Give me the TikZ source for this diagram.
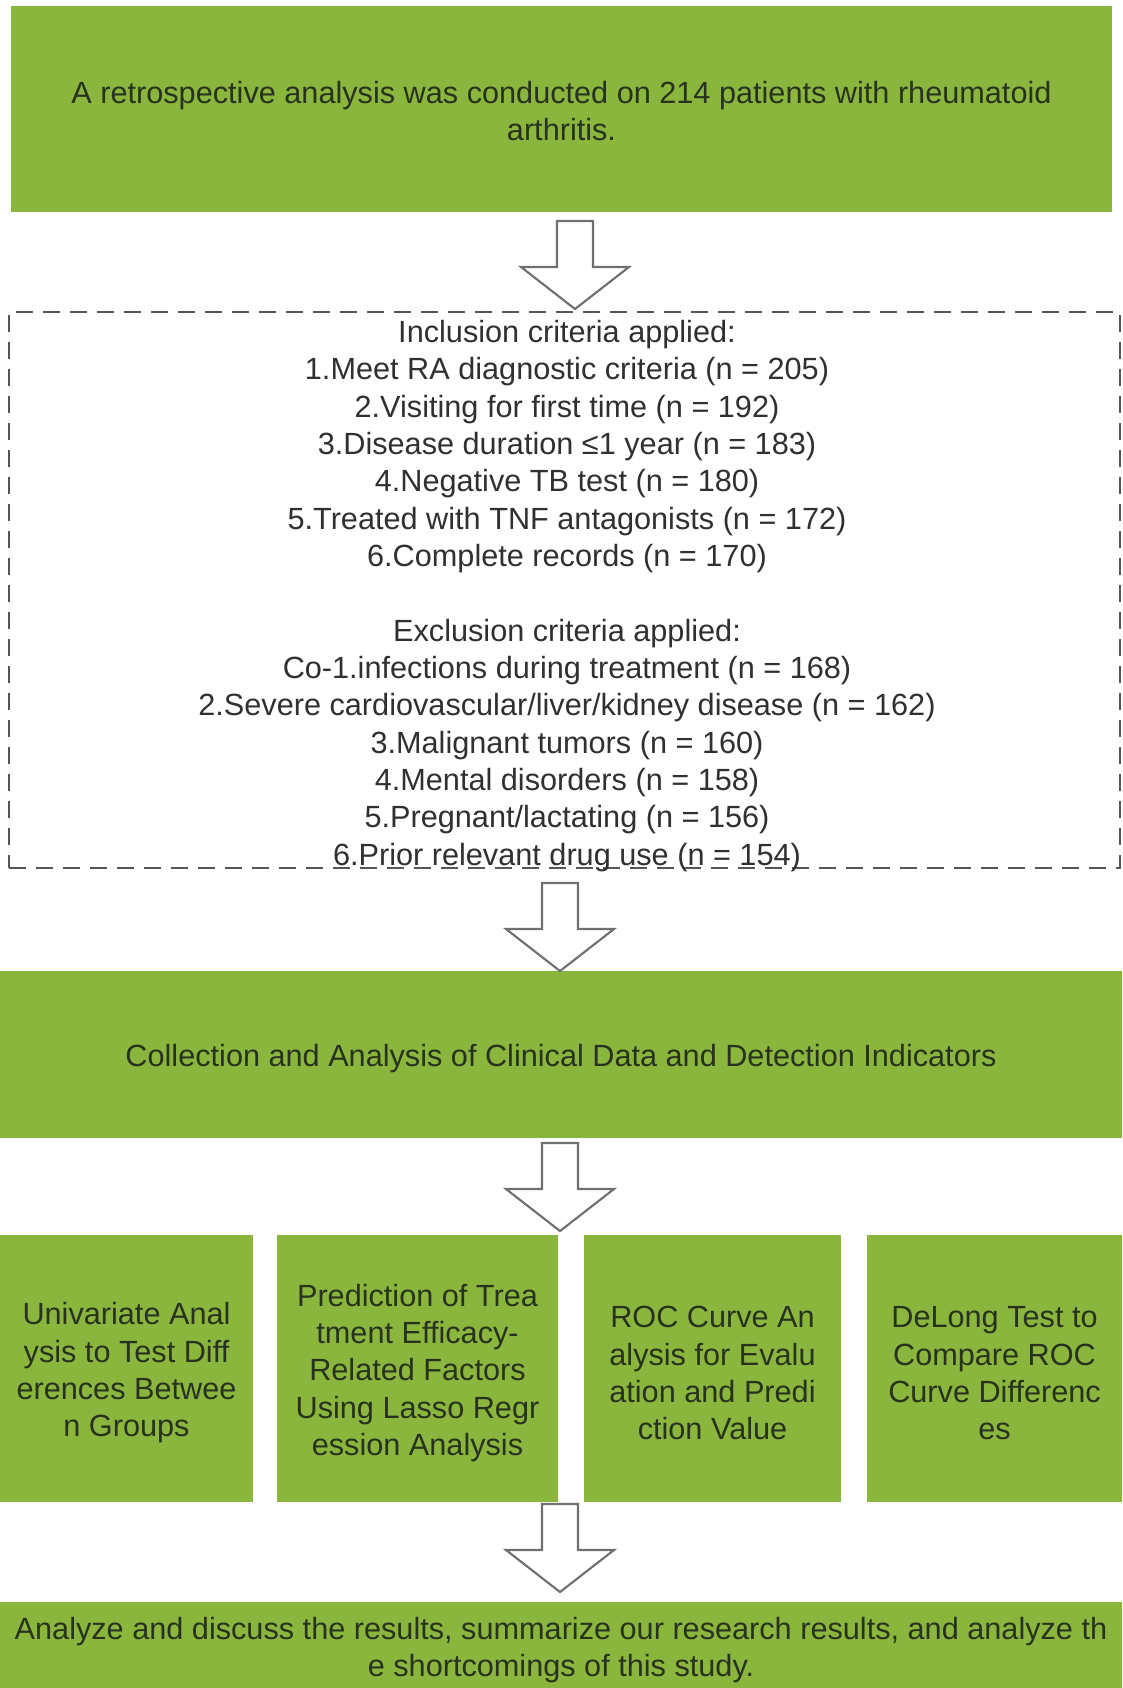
\documentclass[tikz,border=0pt]{standalone}
\usepackage{fontspec}
\setmainfont{Liberation Sans}
\definecolor{boxgreen}{RGB}{138,182,62}
\definecolor{gtext}{RGB}{40,50,30}
\definecolor{wtext}{RGB}{48,48,48}
\definecolor{arrowgray}{RGB}{112,112,112}
\definecolor{dashgray}{RGB}{85,85,85}
\def\u{0.75pt}
% invisible rule on the first line: lowers a text block inside its box
\newcommand\lowerby[1]{\rule{0pt}{\dimexpr17pt+#1\relax}}
\tikzset{
  gbox/.style={fill=boxgreen, draw=none, inner sep=0pt, align=center, text=gtext,
    font=\fontsize{23}{28}\selectfont},
  dbox/.style={draw=dashgray, line width=1.5pt, dash pattern=on 12.75pt off 7.5pt,
    inner sep=0pt},
  dtext/.style={inner sep=0pt, align=center, text=wtext, font=\fontsize{23}{28}\selectfont},
  blockarrow/.style={draw=arrowgray, fill=white, line width=1.6pt, line join=miter}
}
\newcommand\bigdownarrow[1]{%
  \draw[blockarrow] (#1) ++(-18,0) -- ++(36,0) -- ++(0,46) -- ++(36,0) -- ++(-54,42)
    -- ++(-54,-42) -- ++(36,0) -- cycle;}
\begin{document}
\begin{tikzpicture}[x=0.75pt,y=-0.75pt]
\useasboundingbox (0,0) rectangle (1122,1688);
\fill[white] (0,0) rectangle (1122,1688);

\node[gbox, minimum width=1101*\u, minimum height=206*\u] (top) at (561.5,109)
  {\lowerby{3pt}A retrospective analysis was conducted on 214 patients with rheumatoid\\arthritis.};

\node[dbox, minimum width=1111*\u, minimum height=556*\u] (crit) at (564.5,590) {};
\node[dtext] (crittext) at (567,596)
  {Inclusion criteria applied:\\
   1.Meet RA diagnostic criteria (n = 205)\\
   2.Visiting for first time (n = 192)\\
   3.Disease duration ≤1 year (n = 183)\\
   4.Negative TB test (n = 180)\\
   5.Treated with TNF antagonists (n = 172)\\
   6.Complete records (n = 170)\\[28pt]
   Exclusion criteria applied:\\
   Co-1.infections during treatment (n = 168)\\
   2.Severe cardiovascular/liver/kidney disease (n = 162)\\
   3.Malignant tumors (n = 160)\\
   4.Mental disorders (n = 158)\\
   5.Pregnant/lactating (n = 156)\\
   6.Prior relevant drug use (n = 154)};

\node[gbox, minimum width=1122*\u, minimum height=167*\u] (collect) at (561,1054.5)
  {\lowerby{6pt}Collection and Analysis of Clinical Data and Detection Indicators};

\node[gbox, minimum width=253*\u, minimum height=267*\u] (b1) at (126.5,1368.5)
  {\lowerby{6pt}Univariate Anal\\ysis to Test Diff\\erences Betwee\\n Groups};
\node[gbox, minimum width=281*\u, minimum height=267*\u] (b2) at (417.5,1368.5)
  {\lowerby{6pt}Prediction of Trea\\tment Efficacy-\\Related Factors\\Using Lasso Regr\\ession Analysis};
\node[gbox, minimum width=257*\u, minimum height=267*\u] (b3) at (712.5,1368.5)
  {\lowerby{6pt}ROC Curve An\\alysis for Evalu\\ation and Predi\\ction Value};
\node[gbox, minimum width=255*\u, minimum height=267*\u] (b4) at (994.5,1368.5)
  {\lowerby{6pt}DeLong Test to\\Compare ROC\\Curve Differenc\\es};

\node[gbox, minimum width=1122*\u, minimum height=87*\u] (final) at (561,1645)
  {\lowerby{7pt}Analyze and discuss the results, summarize our research results, and analyze th\\e shortcomings of this study.};

\coordinate (a1) at (575,221);
\coordinate (a2) at (560,883);
\coordinate (a3) at (560,1143);
\coordinate (a4) at (560,1504);
\bigdownarrow{a1}
\bigdownarrow{a2}
\bigdownarrow{a3}
\bigdownarrow{a4}
\end{tikzpicture}
\end{document}
